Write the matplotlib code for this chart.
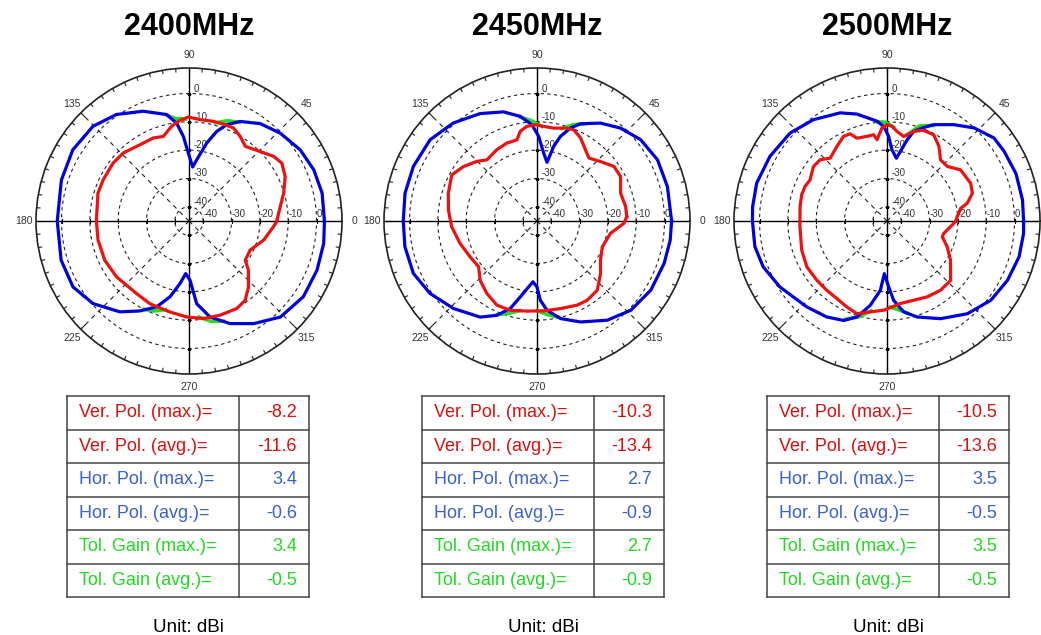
import numpy as np
import matplotlib.pyplot as plt

plt.rcParams['font.family'] = ['Liberation Sans', 'DejaVu Sans']

W, H = 1041, 635
nan = np.nan

# ---- data (angles in degrees, gain in dBi) ----
freqs = ['2400MHz', '2450MHz', '2500MHz']

hor1_ang = [0, 11.8, 22.3, 32.6, 43.9, 53.8, 62.8, 68.6, 72.8, 77.2, 82.8, 86.1, 90.6, 93.8, 97.2,
            101.9, 112.7, 124.3, 135.4, 148.5, 162.2, 180, 197, 209.6, 220.7, 232.7, 241.3, 249.3,
            255.9, 261.8, 266.4, 271, 275.3, 282.4, 291.8, 302.2, 313.6, 326.5, 339, 350.6]
hor1_db = [2.8, 3.0, 2.6, 1.6, -0.3, -2.4, -5.5, -8.5, -11.9, -16.8, -23.2, -25.9, -21.0, -15.1, -10.2,
           -6.6, -3.0, 0.5, 2.6, 3.1, 2.3, 1.5, 2.2, 2.1, -0.3, -4.7, -8.8, -12.6,
           -17.4, -22.7, -26.4, -24.1, -15.7, -10.3, -6.0, -2.2, 1.8, 3.4, 3.4, 3.2]
ver1_ang = [0, 9.0, 16.3, 24.8, 31.9, 37.3, 44.3, 53.0, 58.8, 64.4, 69.4, 76.2, 83.8, 90.4, 96.1,
            100.4, 106.9, 113.3, 122.8, 134.1, 142.7, 154.4, 163.0, 180, 191.8, 204.9, 217.6, 234.1,
            244.7, 258.2, 268.6, 278.4, 288.3, 298.6, 305.3, 312.1, 320.4, 325.1, 334.6, 345.7, 356.2]
ver1_db = [-14.0, -12.4, -10.2, -7.6, -6.4, -7.4, -9.9, -12.0, -10.1, -8.6, -8.7, -8.8, -9.0, -8.3, -9.6,
           -11.0, -13.8, -13.1, -13.0, -11.6, -11.3, -11.4, -11.4, -12.3, -12.2, -12.2, -12.7, -13.4,
           -12.7, -12.2, -11.1, -10.2, -10.0, -9.8, -10.7, -13.7, -17.8, -20.8, -21.1, -17.8, -15.1]
tol1_ang = [92, 97.5, 102, nan, 63, 69, 75, nan, 243, 249, 255, nan, 276, 282.5, 289]
tol1_db = [-9.0, -8.5, -6.8, nan, -5.9, -7.1, -9.1, nan, -10.0, -11.0, -12.6, nan, -10.9, -8.7, -7.6]

hor2_ang = [0, 14.8, 26.9, 38.1, 48.0, 57.0, 65.9, 70.2, 74.5, 77.4, 80.3, 84.4, 88.9, 93.0, 99.1,
            107.1, 117.9, 130.5, 142.8, 156.2, 168.1, 180, 191.0, 203, 214.1, 226.3, 239.4, 246.9,
            253.0, 257.6, 262.8, 266.2, 270, 272.4, 276.4, 283.5, 293.3, 305.3, 316.4, 328.7, 341.5, 351.8]
hor2_db = [2.5, 2.6, 2.7, 1.5, -0.9, -3.8, -7.4, -10.1, -14.0, -18.0, -24.0, -20.9, -15.1, -11.0, -7.6,
           -4.7, -2.1, 0.5, 2.4, 2.7, 2.6, 2.2, 2.5, 2.4, 0.6, -2.3, -5.6, -8.8,
           -12.7, -17.6, -21.6, -23.5, -21.7, -17.0, -13.3, -9.6, -6.2, -2.1, 0.7, 2.0, 2.3, 2.5]
ver2_ang = [2.8, 9.2, 18.4, 28.0, 35.3, 43.1, 50.5, 55.8, 62.3, 68.1, 73.0, 79.8, 86.0, 91.0, 96.1,
            100.6, 103.9, 111.1, 119.4, 129.3, 135.3, 143.5, 151.6, 162.6, 172.9, 183.8, 196.2, 208.1,
            218.1, 226.2, 235.3, 244.5, 253.3, 263.6, 274.3, 285.0, 295.5, 302.3, 311.0, 320.4, 328.4,
            338.5, 350.5, 358.5]
ver2_db = [-13.3, -13.3, -13.9, -11.6, -11.7, -14.3, -16.2, -14.6, -11.9, -10.3, -10.7, -11.7, -11.5, -11.0, -11.4,
           -12.8, -15.5, -15.5, -16.1, -17.1, -15.1, -12.7, -10.8, -12.2, -13.5, -14.8, -16.7, -18.2,
           -18.8, -16.0, -13.9, -12.1, -12.1, -13.0, -13.2, -13.0, -12.1, -11.9, -12.6, -15.9, -18.7,
           -20.2, -18.7, -14.3]
tol2_ang = [87, 93, 99, nan, 64, 69.5, 75, nan, 247, 253, 259, nan, 270, 276.5, 283]
tol2_db = [-11.6, -9.6, -7.9, nan, -6.9, -8.7, -11.2, nan, -9.1, -10.9, -12.8, nan, -13.4, -11.7, -10.1]

hor3_ang = [0, 8.8, 20.1, 30.7, 37.8, 46.9, 55.2, 64.1, 69.3, 73.4, 76.1, 79.1, 81.5, 86.0, 88.9,
            92.0, 95.7, 105.7, 113.4, 126.0, 137.8, 151.1, 163.8, 173.9, 180, 191.0, 200.3, 211.6,
            226.9, 237.9, 246.4, 252.6, 258.8, 264.5, 267.1, 271.5, 274.8, 280.4, 287.4, 298.7, 310.9,
            322.6, 333.8, 344.8, 354.8]
hor3_db = [3.2, 3.4, 3.5, 3.1, 2.8, 0.0, -3.6, -7.2, -9.9, -12.0, -15.5, -20.0, -22.6, -19.8, -15.1,
           -11.6, -9.6, -5.8, -3.4, -0.8, 1.2, 2.2, 2.9, 2.7, 2.5, 2.5, 1.6, -0.6,
           -3.5, -5.0, -6.7, -9.5, -14.7, -20.4, -26.4, -21.7, -16.9, -12.4, -9.5, -5.7, -1.7,
           1.1, 2.4, 3.3, 3.4]
ver3_ang = [0, 3.5, 9.8, 12.5, 18.0, 24.3, 34.8, 42.2, 48.8, 55.2, 61.5, 68.1, 73.4, 78.8, 83.6,
            87.0, 90, 93.1, 97.0, 98.8, 103.3, 110.0, 112.9, 117.2, 123.9, 132.1, 137.5, 143.5,
            151.9, 157.2, 163.0, 170.6, 183.7, 198.8, 209.7, 220.1, 229.0, 237.1, 245.0, 252.0, 259.6,
            267.9, 273.3, 279.2, 288.6, 297.9, 307.7, 317.0, 328.4, 336.8, 344.1, 347.7, 358]
ver3_db = [-20.7, -20.2, -18.6, -16.0, -13.3, -12.6, -13.4, -16.3, -16.3, -12.9, -10.4, -10.5, -12.0, -14.6, -13.2,
           -11.5, -11.0, -12.1, -16.1, -14.2, -14.3, -13.9, -11.6, -11.4, -13.3, -15.1, -13.0, -12.7,
           -14.2, -13.6, -13.5, -13.9, -14.2, -13.2, -12.4, -12.6, -12.6, -12.4, -11.5, -10.6, -12.4,
           -13.5, -14.6, -15.5, -15.5, -14.7, -14.1, -14.3, -18.7, -21.9, -24.7, -24.5, -21.4]
tol3_ang = [86, 91, 96, nan, 64, 71, 77, nan, 247, 254, 260, nan, 272, 277, 282]
tol3_db = [-11.8, -10.1, -9.8, nan, -7.5, -9.5, -13.8, nan, -7.3, -9.9, -12.8, nan, -14.6, -13.5, -11.9]

hor_ang = [hor1_ang, hor2_ang, hor3_ang]
hor_db = [hor1_db, hor2_db, hor3_db]
ver_ang = [ver1_ang, ver2_ang, ver3_ang]
ver_db = [ver1_db, ver2_db, ver3_db]
tol_ang = [tol1_ang, tol2_ang, tol3_ang]
tol_db = [tol1_db, tol2_db, tol3_db]

# table values
row_labels = ['Ver. Pol. (max.)=', 'Ver. Pol. (avg.)=', 'Hor. Pol. (max.)=',
              'Hor. Pol. (avg.)=', 'Tol. Gain (max.)=', 'Tol. Gain (avg.)=']
ver_max = [-8.2, -10.3, -10.5]
ver_avg = [-11.6, -13.4, -13.6]
hor_max = [3.4, 2.7, 3.5]
hor_avg = [-0.6, -0.9, -0.5]
tol_max = [3.4, 2.7, 3.5]
tol_avg = [-0.5, -0.9, -0.5]

ring_levels = [0, -10, -20, -30, -40]
angle_labels = ['0', '45', '90', '135', '180', '225', '270', '315']

# ---- layout (pixels) ----
centers_x = [189, 537, 887]
center_y = 221
R = 153
r_min, r_max = -45, 9
table_left = [67, 422, 767]
table_w, col1_w = 242, 172
table_top, table_bot = 396, 597

red_line, blue_line, green_line = '#ee1111', '#0000dd', '#22dd22'
red_txt, blue_txt, green_txt = '#d81010', '#3a62d0', '#22d822'
row_colors = [red_txt, red_txt, blue_txt, blue_txt, green_txt, green_txt]

fig = plt.figure(figsize=(W / 100, H / 100), dpi=100)
fig.patch.set_facecolor('white')

# overlay in pixel coordinates for titles and tables
ov = fig.add_axes([0, 0, 1, 1])
ov.set_xlim(0, W)
ov.set_ylim(H, 0)
ov.axis('off')

full = np.linspace(0, 2 * np.pi, 361)
for i in range(3):
    cx = centers_x[i]
    ax = fig.add_axes([(cx - R) / W, (H - center_y - R) / H, 2 * R / W, 2 * R / H],
                      projection='polar')
    ax.set_ylim(r_min, r_max)
    ax.grid(False)
    ax.set_yticks([])
    ax.set_xticks(np.deg2rad(np.arange(0, 360, 45)))
    labels = list(angle_labels)
    if i == 2:
        labels[0] = ''  # falls outside the canvas in the original
    ax.set_xticklabels(labels)
    ax.tick_params(axis='x', length=0, pad=2, labelsize=7.5, colors='#333333')
    ax.spines['polar'].set_linewidth(1.2)
    ax.spines['polar'].set_color('#222222')

    # small inward ticks on the outer circle
    for a in np.arange(0, 360, 5):
        ln = 2.2 if a % 45 == 0 else 1.2
        ax.plot([np.deg2rad(a)] * 2, [r_max, r_max - ln], color='#222222', lw=0.8, zorder=1)

    # grid: dashed rings and spokes, solid cross
    for lvl in ring_levels:
        ax.plot(full, np.full_like(full, lvl), ls=(0, (3, 3)), color='#222222', lw=0.8, zorder=1)
    for a in [45, 135, 225, 315]:
        ax.plot([np.deg2rad(a)] * 2, [r_min, r_max], ls=(0, (4, 4)), color='#222222', lw=0.8, zorder=1)
    for a in [0, 90, 180, 270]:
        ax.plot([np.deg2rad(a)] * 2, [r_min, r_max], color='black', lw=1.0, zorder=1)
    for lvl in ring_levels:
        ax.plot([0, np.pi], [lvl, lvl], ls='none', marker='|', ms=3, mew=0.8, color='black', zorder=1)
        ax.plot([np.pi / 2, 3 * np.pi / 2], [lvl, lvl], ls='none', marker='_', ms=3, mew=0.8,
                color='black', zorder=1)
        ax.annotate(str(lvl), xy=(np.pi / 2, lvl), xytext=(3.5, 0), textcoords='offset points',
                    ha='left', va='bottom', fontsize=7, color='#333333', zorder=1)
        ax.annotate(str(lvl), xy=(0, lvl), xytext=(0, 1.5), textcoords='offset points',
                    ha='left', va='bottom', fontsize=7, color='#333333', zorder=1)

    # patterns
    t = np.deg2rad(tol_ang[i])
    ax.plot(t, tol_db[i], color=green_line, lw=2.6, zorder=3)
    ha = np.deg2rad(hor_ang[i] + hor_ang[i][:1])
    ax.plot(ha, hor_db[i] + hor_db[i][:1], color=blue_line, lw=2.3, zorder=4)
    va = np.deg2rad(ver_ang[i] + ver_ang[i][:1])
    ax.plot(va, ver_db[i] + ver_db[i][:1], color=red_line, lw=2.3, zorder=5)

    # title
    ov.text(cx, 27, freqs[i], ha='center', va='center', fontsize=22, fontweight='bold', color='black')

    # table
    x0 = table_left[i]
    x1 = x0 + table_w
    xm = x0 + col1_w
    row_h = (table_bot - table_top) / 6
    for k in range(7):
        y = table_top + k * row_h
        ov.plot([x0, x1], [y, y], color='#444444', lw=1.1)
    for x in [x0, xm, x1]:
        ov.plot([x, x], [table_top, table_bot], color='#444444', lw=1.1)
    vals = [ver_max[i], ver_avg[i], hor_max[i], hor_avg[i], tol_max[i], tol_avg[i]]
    for k in range(6):
        yc = table_top + (k + 0.5) * row_h
        ov.text(x0 + 12, yc, row_labels[k], ha='left', va='center', fontsize=13, color=row_colors[k])
        ov.text(x1 - 12, yc, f'{vals[k]:.1f}', ha='right', va='center', fontsize=13, color=row_colors[k])
    ov.text((x0 + x1) / 2, 627, 'Unit: dBi', ha='center', va='center', fontsize=13.5, color='black')

fig.savefig('out.png', dpi=100, facecolor='white')
